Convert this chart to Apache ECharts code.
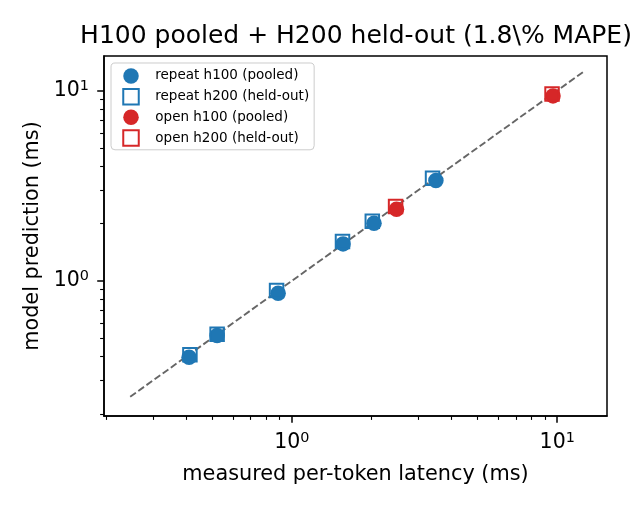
<!DOCTYPE html>
<html>
<head>
<meta charset="utf-8">
<script src="https://cdn.jsdelivr.net/npm/echarts@6/dist/echarts.min.js"></script>
<style>
  html, body { margin: 0; padding: 0; background: #fff; }
  #main { width: 630px; height: 510px; }
</style>
</head>
<body>
<div id="main"></div>
<script>
// values (ms)
const repeatH100Measured = [0.41, 0.523, 0.888, 1.56, 2.04, 3.49]
const repeatH100Pred = [0.397, 0.516, 0.862, 1.565, 2.01, 3.37]
const repeatH200Measured = [0.413, 0.523, 0.876, 1.552, 2.01, 3.39]
const repeatH200Pred = [0.409, 0.525, 0.889, 1.609, 2.055, 3.46]
const openH100Measured = [2.48, 9.64]
const openH100Pred = [2.38, 9.38]
const openH200Measured = [2.46, 9.56]
const openH200Pred = [2.46, 9.61]
const diagonal = [0.246, 12.5]

const majorTicks = [1, 10]
const minorTicks = [0.2, 0.3, 0.4, 0.5, 0.6, 0.7, 0.8, 0.9, 2, 3, 4, 5, 6, 7, 8, 9]
const xRange = [0.196, 15.4]
const yRange = [0.195, 15.2]

const blue = '#1f77b4'
const red = '#d62728'
const font = 'DejaVu Sans'
const squareIcon = 'path://M0,0H10V10H0Z'

const pairs = (xs, ys) => xs.map((x, i) => [x, ys[i]])

const powLabel = v => '{n|10}{s|' + Math.round(Math.log10(v)) + '}'
const labelRich = {
    n: {fontFamily: font, fontSize: 20.5, color: '#000'},
    s: {fontFamily: font, fontSize: 14.4, color: '#000', padding: [0, 0, 9, 0]}
}

function mainAxis(range, extra) {
    return Object.assign({
        type: 'log',
        min: range[0],
        max: range[1],
        axisLine: {show: true, lineStyle: {color: '#000', width: 1.5}},
        axisTick: {show: true, length: 6.8, lineStyle: {color: '#000', width: 1.5}, customValues: majorTicks},
        axisLabel: {customValues: majorTicks, formatter: powLabel, rich: labelRich, margin: 15},
        splitLine: {show: false},
        nameLocation: 'middle',
        nameTextStyle: {fontFamily: font, fontSize: 20.8, color: '#000'}
    }, extra)
}

function minorAxis(range, extra) {
    return Object.assign({
        type: 'log',
        min: range[0],
        max: range[1],
        axisLine: {show: false},
        axisTick: {show: true, length: 3.9, lineStyle: {color: '#000', width: 1.1}, customValues: minorTicks},
        axisLabel: {show: false},
        splitLine: {show: false}
    }, extra)
}

const chart = echarts.init(document.getElementById('main'))

const option = {
    animation: false,
    backgroundColor: '#fff',
    title: {
        text: 'H100 pooled + H200 held-out (1.8\\% MAPE)',
        left: 356,
        top: 24,
        textAlign: 'center',
        padding: 0,
        textStyle: {fontFamily: font, fontSize: 25, fontWeight: 'normal', color: '#000'}
    },
    grid: {
        left: 104, right: 23, top: 56, bottom: 94,
        show: true, borderColor: '#000', borderWidth: 1.5, backgroundColor: 'transparent'
    },
    legend: {
        orient: 'vertical',
        left: 111,
        top: 63,
        padding: [5.2, 5, 3, 11.25],
        itemWidth: 38.6,
        itemHeight: 15.5,
        itemGap: 4.2,
        symbolKeepAspect: true,
        backgroundColor: 'rgba(255,255,255,0.8)',
        borderColor: '#cccccc',
        borderWidth: 1,
        borderRadius: 4,
        textStyle: {fontFamily: font, fontSize: 13.5, color: '#000', lineHeight: 15},
        data: [
            {name: 'repeat h100 (pooled)', icon: 'circle', itemStyle: {color: blue, borderWidth: 0}},
            {name: 'repeat h200 (held-out)', icon: squareIcon, itemStyle: {color: '#fff', borderColor: blue, borderWidth: 2}},
            {name: 'open h100 (pooled)', icon: 'circle', itemStyle: {color: red, borderWidth: 0}},
            {name: 'open h200 (held-out)', icon: squareIcon, itemStyle: {color: '#fff', borderColor: red, borderWidth: 2}}
        ]
    },
    xAxis: [
        mainAxis(xRange, {position: 'bottom', name: 'measured per-token latency (ms)', nameGap: 48}),
        minorAxis(xRange, {position: 'bottom'})
    ],
    yAxis: [
        mainAxis(yRange, {position: 'left', name: 'model prediction (ms)', nameGap: 60}),
        minorAxis(yRange, {position: 'left'})
    ],
    series: [
        {
            type: 'line',
            data: pairs(diagonal, diagonal),
            symbol: 'none',
            silent: true,
            lineStyle: {color: '#666666', width: 1.9, type: [7, 3]},
            z: 1
        },
        {
            name: 'repeat h100 (pooled)',
            type: 'scatter',
            data: pairs(repeatH100Measured, repeatH100Pred),
            symbol: 'circle',
            symbolSize: 15.5,
            itemStyle: {color: blue, opacity: 1},
            z: 2
        },
        {
            name: 'repeat h200 (held-out)',
            type: 'scatter',
            data: pairs(repeatH200Measured, repeatH200Pred),
            symbol: 'rect',
            symbolSize: 13.5,
            itemStyle: {color: 'rgba(0,0,0,0)', borderColor: blue, borderWidth: 2, opacity: 1},
            z: 3
        },
        {
            name: 'open h100 (pooled)',
            type: 'scatter',
            data: pairs(openH100Measured, openH100Pred),
            symbol: 'circle',
            symbolSize: 15.5,
            itemStyle: {color: red, opacity: 1},
            z: 4
        },
        {
            name: 'open h200 (held-out)',
            type: 'scatter',
            data: pairs(openH200Measured, openH200Pred),
            symbol: 'rect',
            symbolSize: 13.5,
            itemStyle: {color: 'rgba(0,0,0,0)', borderColor: red, borderWidth: 2, opacity: 1},
            z: 5
        }
    ]
}

chart.setOption(option)
</script>
</body>
</html>
